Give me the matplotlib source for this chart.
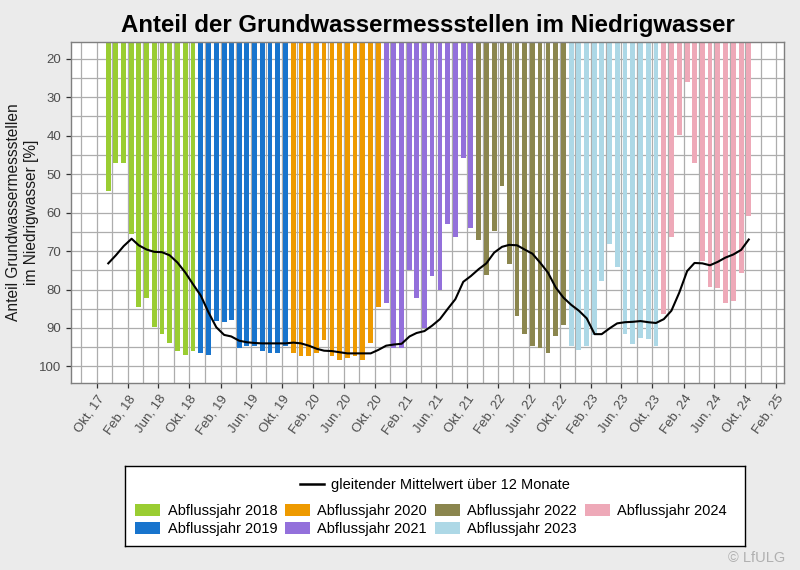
import numpy as np
import pandas as pd
import matplotlib
matplotlib.use("Agg")
import matplotlib.pyplot as plt
import matplotlib.dates as mdates
from matplotlib.patches import Patch
from matplotlib.lines import Line2D
from matplotlib.ticker import MultipleLocator, FixedLocator

plt.rcParams['font.family'] = ['Liberation Sans', 'DejaVu Sans']

# ---------------- data ----------------
years = [2018, 2019, 2020, 2021, 2022, 2023, 2024]
year_labels = ["Abflussjahr 2018", "Abflussjahr 2019", "Abflussjahr 2020", "Abflussjahr 2021",
               "Abflussjahr 2022", "Abflussjahr 2023", "Abflussjahr 2024"]
year_colors = ["#9ACD32", "#1874CD", "#EE9A00", "#9370DB", "#8B864E", "#ADD8E6", "#EEA9B8"]

# monthly share (%) Nov..Okt of each Abflussjahr
ab2018 = [54.5, 47.0, 47.2, 65.6, 84.5, 82.2, 89.7, 91.5, 93.8, 96.1, 96.9, 96.1]
ab2019 = [96.4, 96.9, 88.1, 88.4, 87.8, 95.1, 94.8, 94.8, 96.1, 96.4, 96.6, 94.8]
ab2020 = [96.6, 97.4, 97.2, 96.4, 93.0, 97.2, 98.2, 97.9, 97.4, 98.2, 93.8, 84.5]
ab2021 = [83.4, 95.1, 95.3, 74.8, 82.2, 89.9, 76.5, 80.1, 63.0, 66.4, 45.7, 64.1]
ab2022 = [67.2, 76.2, 64.8, 53.2, 73.4, 86.8, 91.5, 94.8, 95.3, 96.6, 92.2, 89.1]
ab2023 = [94.8, 95.6, 94.8, 91.7, 77.8, 68.2, 74.1, 91.5, 94.1, 92.5, 92.8, 94.8]
ab2024 = [86.3, 66.4, 39.8, 26.0, 47.0, 72.6, 79.3, 79.6, 83.4, 82.9, 75.7, 60.9]
year_values = [ab2018, ab2019, ab2020, ab2021, ab2022, ab2023, ab2024]

# 12-month moving average, Nov 2017 .. Okt 2024
ma_2018 = [73.2, 71.1, 68.7, 66.8, 68.5, 69.6, 70.2, 70.3, 71.1, 73.0, 75.6, 78.6]
ma_2019 = [81.6, 85.9, 89.8, 91.8, 92.2, 93.3, 93.7, 93.9, 94.0, 94.0, 94.0, 94.0]
ma_2020 = [93.8, 94.0, 94.6, 95.4, 95.9, 96.0, 96.3, 96.6, 96.6, 96.6, 96.6, 95.7]
ma_2021 = [94.6, 94.3, 94.1, 92.2, 91.3, 90.8, 89.4, 87.7, 85.1, 82.5, 78.0, 76.5]
ma_2022 = [74.7, 73.2, 70.4, 68.9, 68.4, 68.5, 69.6, 70.7, 73.0, 75.6, 79.5, 82.1]
ma_2023 = [84.0, 85.5, 87.5, 91.6, 91.6, 90.1, 88.8, 88.5, 88.4, 88.2, 88.5, 88.7]
ma_2024 = [87.7, 85.5, 80.8, 75.2, 73.1, 73.2, 73.7, 72.8, 71.7, 70.9, 69.7, 67.0]
ma_values = ma_2018 + ma_2019 + ma_2020 + ma_2021 + ma_2022 + ma_2023 + ma_2024

month_abbr_de = {1: "Jan", 2: "Feb", 3: "Mär", 4: "Apr", 5: "Mai", 6: "Jun",
                 7: "Jul", 8: "Aug", 9: "Sep", 10: "Okt", 11: "Nov", 12: "Dez"}

title = "Anteil der Grundwassermessstellen im Niedrigwasser"
ylabel = "Anteil Grundwassermessstellen\nim Niedrigwasser [%]"
ma_label = "gleitender Mittelwert über 12 Monate"

# ---------------- figure ----------------
W, H = 800, 570
fig = plt.figure(figsize=(8, 5.7), dpi=100, facecolor="#ebebeb")
ax_l, ax_r, ax_t, ax_b = 71, 784, 42, 383
ax = fig.add_axes([ax_l / W, 1 - ax_b / H, (ax_r - ax_l) / W, (ax_b - ax_t) / H])
ax.set_facecolor("white")
ax.set_axisbelow(True)

all_x = []
for yr, vals, col in zip(years, year_values, year_colors):
    start = pd.Timestamp(f"{yr - 1}-11-01")
    dates = pd.date_range(start, periods=12, freq="MS") + pd.Timedelta(days=14)
    x = mdates.date2num(dates.to_pydatetime())
    all_x.extend(x)
    ax.bar(x, vals, width=19, bottom=0, color=col, zorder=2, linewidth=0)

ax.plot(all_x, ma_values, color="black", lw=1.5, zorder=3)

ax.set_ylim(104.3, 15.66)
ax.set_xlim(mdates.date2num(pd.Timestamp("2017-06-21")), mdates.date2num(pd.Timestamp("2025-03-03")))

major = pd.date_range("2017-10-01", "2025-02-01", freq="4MS")
minor = pd.date_range("2017-08-01", "2025-02-01", freq="2MS")
ax.xaxis.set_major_locator(FixedLocator(mdates.date2num(major.to_pydatetime())))
ax.xaxis.set_minor_locator(FixedLocator(mdates.date2num(minor.to_pydatetime())))
ax.set_xticklabels([f"{month_abbr_de[d.month]}, {d.year % 100:02d}" for d in major])

ax.yaxis.set_major_locator(FixedLocator(np.arange(20, 101, 10)))
ax.yaxis.set_minor_locator(MultipleLocator(5))

ax.grid(which="both", color="#adadad", lw=0.9)
ax.tick_params(which="major", length=3.5, width=0.9, color="#333333",
               labelcolor="#4d4d4d", labelsize=9.5)
ax.tick_params(which="minor", length=0)
for lab in ax.get_xticklabels():
    lab.set_rotation(55)
    lab.set_ha("right")
    lab.set_va("top")
    lab.set_rotation_mode("anchor")
for s in ax.spines.values():
    s.set_color("#7f7f7f")
    s.set_linewidth(1)

ax.set_title(title, fontsize=17.3, fontweight="bold", color="black", pad=7)
ax.set_ylabel(ylabel, fontsize=11.2, color="#1a1a1a", linespacing=1.25)
ax.yaxis.set_label_coords((39 - ax_l) / (ax_r - ax_l), 0.5)

# ---------------- legend box ----------------
lx0, lx1, ly0, ly1 = 125, 745, 466, 546
lax = fig.add_axes([lx0 / W, 1 - ly1 / H, (lx1 - lx0) / W, (ly1 - ly0) / H])
lax.set_facecolor("white")
lax.set_xticks([])
lax.set_yticks([])
for s in lax.spines.values():
    s.set_color("black")
    s.set_linewidth(1)

leg1 = lax.legend(handles=[Line2D([], [], color="black", lw=1.8)], labels=[ma_label],
                  loc="center", bbox_to_anchor=(0.5, (ly1 - 485) / (ly1 - ly0)),
                  frameon=False, fontsize=10.5, handlelength=1.6, handletextpad=0.5,
                  borderpad=0, borderaxespad=0)
lax.add_artist(leg1)
patches = [Patch(facecolor=c, edgecolor="none") for c in year_colors]
leg2 = lax.legend(handles=patches, labels=year_labels, ncol=4, loc="center",
                  bbox_to_anchor=((431 - lx0) / (lx1 - lx0), (ly1 - 520) / (ly1 - ly0)),
                  frameon=False, fontsize=10.5, handlelength=1.7, handleheight=0.9,
                  handletextpad=0.5, columnspacing=0.55, labelspacing=0.3,
                  borderpad=0, borderaxespad=0)

fig.text(785 / W, 1 - 558 / H, "© LfULG", ha="right", va="center", color="#b0b0b0", fontsize=10.5)

fig.savefig("out.png", dpi=100, facecolor=fig.get_facecolor())
